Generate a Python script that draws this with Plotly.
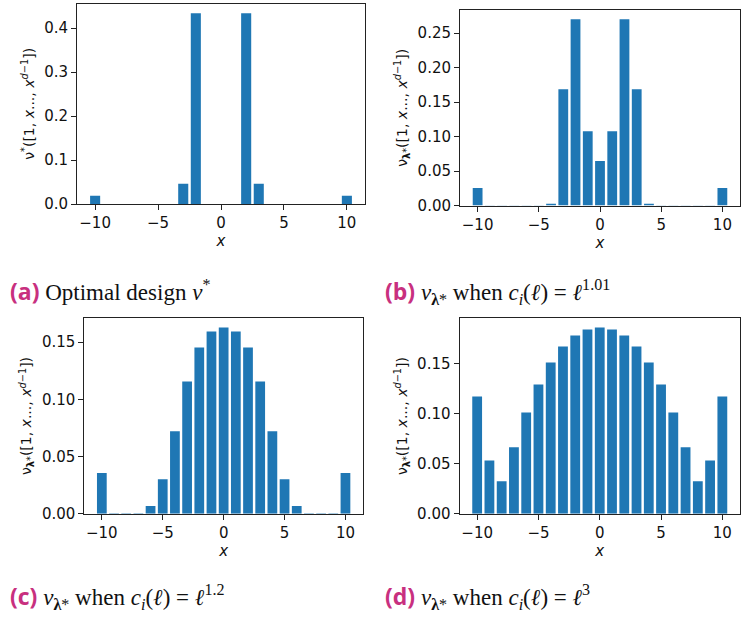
import plotly.graph_objects as go

xs = list(range(-10, 11))

nu_a = [0.019, 0, 0, 0, 0, 0, 0, 0.046, 0.434, 0, 0, 0, 0.434, 0.046, 0, 0, 0, 0, 0, 0, 0.019]
nu_b = [0.0252, 0.0003, 0.0003, 0.0003, 0.0003, 0.0003, 0.0024, 0.1685, 0.27, 0.1077, 0.0647,
        0.1077, 0.27, 0.1685, 0.0024, 0.0003, 0.0003, 0.0003, 0.0003, 0.0003, 0.0252]
nu_c = [0.0355, 0.0003, 0.0003, 0.0003, 0.0067, 0.0302, 0.0721, 0.1157, 0.1453, 0.1593, 0.1628,
        0.1593, 0.1453, 0.1157, 0.0721, 0.0302, 0.0067, 0.0003, 0.0003, 0.0003, 0.0355]
nu_d = [0.1172, 0.0531, 0.0325, 0.0664, 0.1012, 0.1291, 0.151, 0.167, 0.1779, 0.1839, 0.1859,
        0.1839, 0.1779, 0.167, 0.151, 0.1291, 0.1012, 0.0664, 0.0325, 0.0531, 0.1172]

x_ticks = [-10, -5, 0, 5, 10]
yticks_a = [0.0, 0.1, 0.2, 0.3, 0.4]
yticks_b = [0.0, 0.05, 0.10, 0.15, 0.20, 0.25]
yticks_c = [0.0, 0.05, 0.10, 0.15]
yticks_d = [0.0, 0.05, 0.10, 0.15]

ylabel_a = "ν<sup>*</sup>([1, <i>x</i>..., <i>x</i><sup><i>d</i>−1</sup>])"
ylabel_l = "ν<sub><b>λ</b>*</sub>([1, <i>x</i>..., <i>x</i><sup><i>d</i>−1</sup>])"

W, H = 741, 617
BAR = "#1f77b4"
MAG = "#c8307f"

panels = [
    # data, yticks, fmt, label, x px (l, r), y px (top, bottom)
    (nu_a, yticks_a, ".1f", ylabel_a, (77, 365), (3.7, 204)),
    (nu_b, yticks_b, ".2f", ylabel_l, (460, 740), (10, 205.5)),
    (nu_c, yticks_c, ".2f", ylabel_l, (84.3, 363), (318.3, 513.7)),
    (nu_d, yticks_d, ".2f", ylabel_l, (459.5, 740), (318.3, 513.7)),
]

fig = go.Figure()
tickfont = dict(family="DejaVu Sans", size=15, color="#111")
for i, (vals, yt, fmt, ylab, (xl, xr), (yt_px, yb_px)) in enumerate(panels):
    n = "" if i == 0 else str(i + 1)
    fig.add_trace(go.Bar(x=xs, y=vals, marker=dict(color=BAR, line=dict(width=0)),
                         width=0.8, xaxis="x" + n, yaxis="y" + n, showlegend=False))
    ymax = max(vals) * 1.05
    fig.layout["xaxis" + n] = dict(
        domain=[xl / W, xr / W], anchor="y" + n, range=[-11.44, 11.44],
        tickvals=x_ticks, ticks="outside", ticklen=5, tickcolor="#222",
        showline=True, linecolor="#222", linewidth=1, mirror=True,
        showgrid=False, zeroline=False, tickfont=tickfont, automargin=False,
        title=dict(text="<i>x</i>", font=dict(family="DejaVu Sans", size=15, color="#111"), standoff=2),
    )
    fig.layout["yaxis" + n] = dict(
        domain=[1 - yb_px / H, 1 - yt_px / H], anchor="x" + n, range=[0, ymax],
        tickvals=yt, tickformat=fmt, ticks="outside", ticklen=5, tickcolor="#222",
        showline=True, linecolor="#222", linewidth=1, mirror=True,
        showgrid=False, zeroline=False, tickfont=tickfont, automargin=False,
        title=dict(text=ylab, font=dict(family="DejaVu Sans", size=14, color="#111"), standoff=6),
    )

def cap(tag, body):
    return (f"<span style='font-family:Open Sans;font-weight:bold;color:{MAG}'>({tag})</span> " + body)

captions = [
    (8, 291, cap("a", "Optimal design <i>ν</i><sup>*</sup>")),
    (383, 291, cap("b", "<i>ν</i><sub><b>λ</b>*</sub> when <i>c<sub>i</sub></i>(<i>ℓ</i>) = <i>ℓ</i><sup>1.01</sup>")),
    (8, 596, cap("c", "<i>ν</i><sub><b>λ</b>*</sub> when <i>c<sub>i</sub></i>(<i>ℓ</i>) = <i>ℓ</i><sup>1.2</sup>")),
    (383, 596, cap("d", "<i>ν</i><sub><b>λ</b>*</sub> when <i>c<sub>i</sub></i>(<i>ℓ</i>) = <i>ℓ</i><sup>3</sup>")),
]
for x, y, t in captions:
    fig.add_annotation(x=x / W, y=1 - y / H, xref="paper", yref="paper", text=t,
                       showarrow=False, xanchor="left", yanchor="middle",
                       font=dict(family="Liberation Serif", size=23, color="#111"))

fig.update_layout(width=W, height=H, margin=dict(l=0, r=0, t=0, b=0),
                  paper_bgcolor="white", plot_bgcolor="white", bargap=0.2,
                  hovermode=False)

fig.write_html("out.html", config={"displayModeBar": False, "staticPlot": True})

# remove the default page margin so the figure fills the window exactly
with open("out.html", "r", encoding="utf-8") as f:
    html = f.read()
html = html.replace("<head>", "<head><style>html,body{margin:0;padding:0;overflow:hidden;}</style>", 1)
with open("out.html", "w", encoding="utf-8") as f:
    f.write(html)
